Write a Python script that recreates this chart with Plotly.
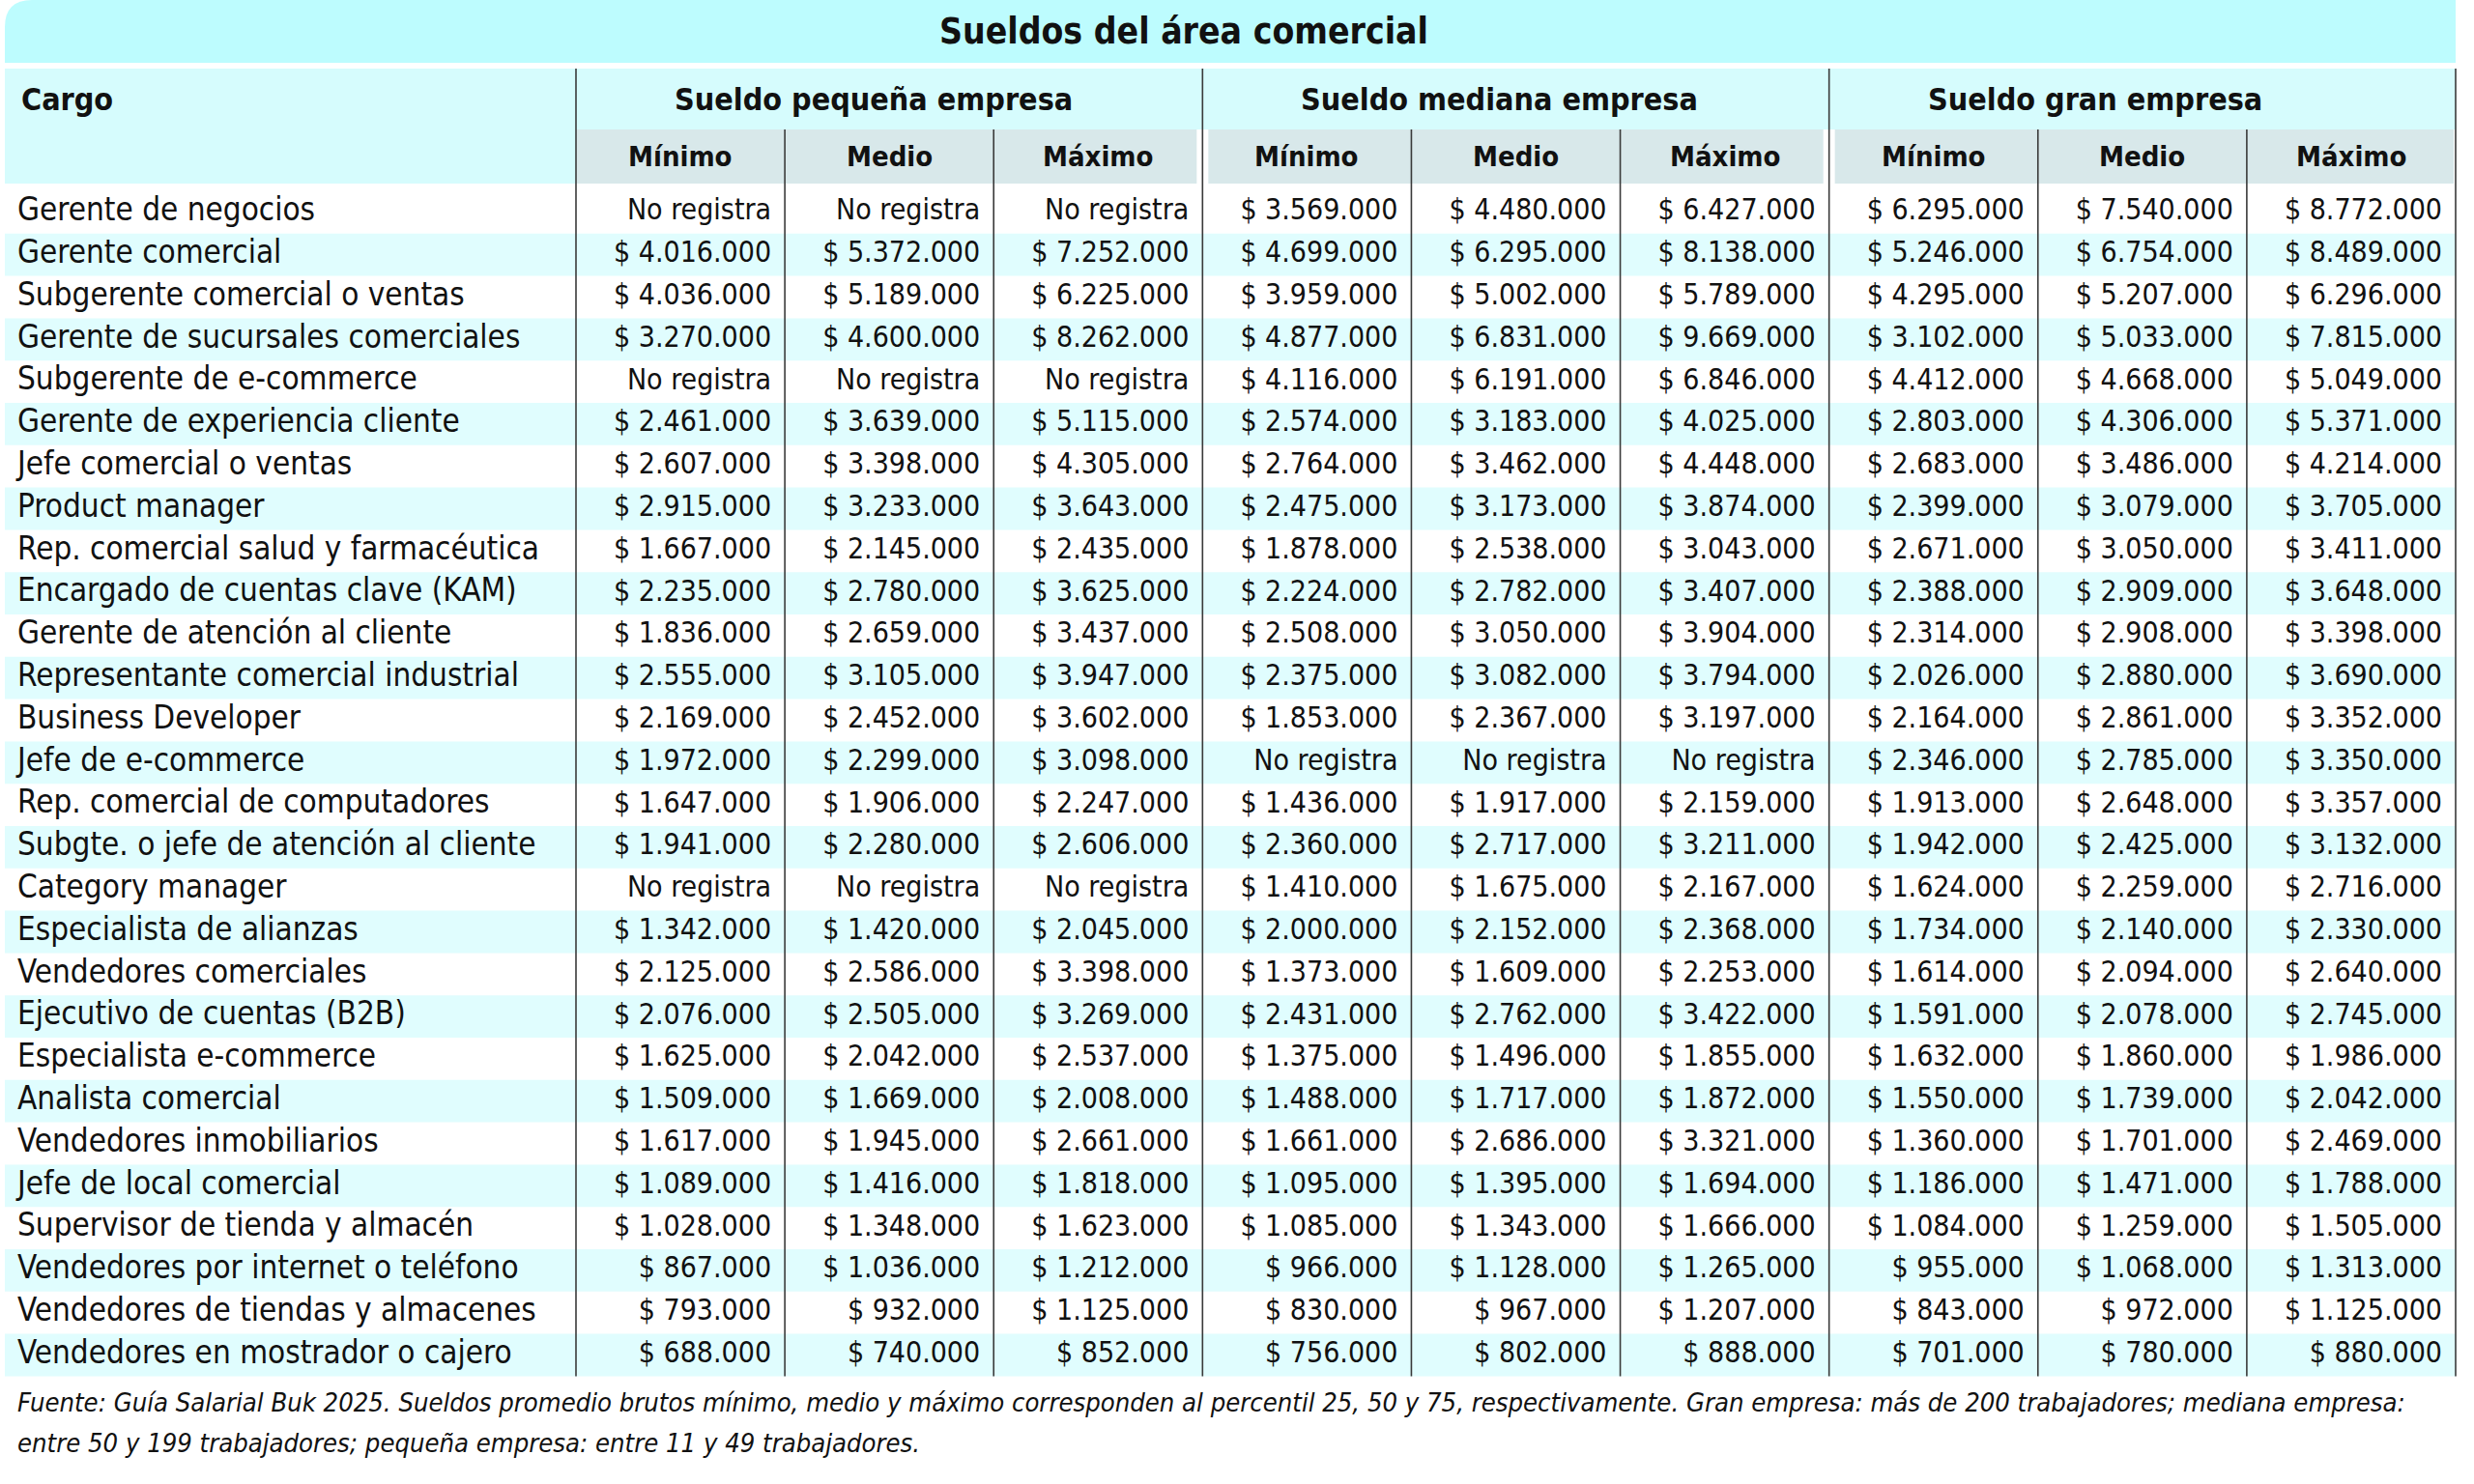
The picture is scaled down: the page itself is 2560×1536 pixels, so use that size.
import plotly.graph_objects as go

# ---------------- datos ----------------
titulo = "Sueldos del área comercial"
encabezado_cargo = "Cargo"
grupos = ["Sueldo pequeña empresa", "Sueldo mediana empresa", "Sueldo gran empresa"]
niveles = ["Mínimo", "Medio", "Máximo"]

cargos = [
    "Gerente de negocios", "Gerente comercial", "Subgerente comercial o ventas",
    "Gerente de sucursales comerciales", "Subgerente de e-commerce",
    "Gerente de experiencia cliente", "Jefe comercial o ventas", "Product manager",
    "Rep. comercial salud y farmacéutica", "Encargado de cuentas clave (KAM)",
    "Gerente de atención al cliente", "Representante comercial industrial",
    "Business Developer", "Jefe de e-commerce", "Rep. comercial de computadores",
    "Subgte. o jefe de atención al cliente", "Category manager",
    "Especialista de alianzas", "Vendedores comerciales", "Ejecutivo de cuentas (B2B)",
    "Especialista e-commerce", "Analista comercial", "Vendedores inmobiliarios",
    "Jefe de local comercial", "Supervisor de tienda y almacén",
    "Vendedores por internet o teléfono", "Vendedores de tiendas y almacenes",
    "Vendedores en mostrador o cajero",
]

# None = "No registra"
peq_min = [None, 4016000, 4036000, 3270000, None, 2461000, 2607000, 2915000, 1667000, 2235000,
           1836000, 2555000, 2169000, 1972000, 1647000, 1941000, None, 1342000, 2125000, 2076000,
           1625000, 1509000, 1617000, 1089000, 1028000, 867000, 793000, 688000]
peq_med = [None, 5372000, 5189000, 4600000, None, 3639000, 3398000, 3233000, 2145000, 2780000,
           2659000, 3105000, 2452000, 2299000, 1906000, 2280000, None, 1420000, 2586000, 2505000,
           2042000, 1669000, 1945000, 1416000, 1348000, 1036000, 932000, 740000]
peq_max = [None, 7252000, 6225000, 8262000, None, 5115000, 4305000, 3643000, 2435000, 3625000,
           3437000, 3947000, 3602000, 3098000, 2247000, 2606000, None, 2045000, 3398000, 3269000,
           2537000, 2008000, 2661000, 1818000, 1623000, 1212000, 1125000, 852000]
med_min = [3569000, 4699000, 3959000, 4877000, 4116000, 2574000, 2764000, 2475000, 1878000, 2224000,
           2508000, 2375000, 1853000, None, 1436000, 2360000, 1410000, 2000000, 1373000, 2431000,
           1375000, 1488000, 1661000, 1095000, 1085000, 966000, 830000, 756000]
med_med = [4480000, 6295000, 5002000, 6831000, 6191000, 3183000, 3462000, 3173000, 2538000, 2782000,
           3050000, 3082000, 2367000, None, 1917000, 2717000, 1675000, 2152000, 1609000, 2762000,
           1496000, 1717000, 2686000, 1395000, 1343000, 1128000, 967000, 802000]
med_max = [6427000, 8138000, 5789000, 9669000, 6846000, 4025000, 4448000, 3874000, 3043000, 3407000,
           3904000, 3794000, 3197000, None, 2159000, 3211000, 2167000, 2368000, 2253000, 3422000,
           1855000, 1872000, 3321000, 1694000, 1666000, 1265000, 1207000, 888000]
gran_min = [6295000, 5246000, 4295000, 3102000, 4412000, 2803000, 2683000, 2399000, 2671000, 2388000,
            2314000, 2026000, 2164000, 2346000, 1913000, 1942000, 1624000, 1734000, 1614000, 1591000,
            1632000, 1550000, 1360000, 1186000, 1084000, 955000, 843000, 701000]
gran_med = [7540000, 6754000, 5207000, 5033000, 4668000, 4306000, 3486000, 3079000, 3050000, 2909000,
            2908000, 2880000, 2861000, 2785000, 2648000, 2425000, 2259000, 2140000, 2094000, 2078000,
            1860000, 1739000, 1701000, 1471000, 1259000, 1068000, 972000, 780000]
gran_max = [8772000, 8489000, 6296000, 7815000, 5049000, 5371000, 4214000, 3705000, 3411000, 3648000,
            3398000, 3690000, 3352000, 3350000, 3357000, 3132000, 2716000, 2330000, 2640000, 2745000,
            1986000, 2042000, 2469000, 1788000, 1505000, 1313000, 1125000, 880000]

fuente = [
    "Fuente: Guía Salarial Buk 2025. Sueldos promedio brutos mínimo, medio y máximo corresponden "
    "al percentil 25, 50 y 75, respectivamente. Gran empresa: más de 200 trabajadores; mediana empresa:",
    "entre 50 y 199 trabajadores; pequeña empresa: entre 11 y 49 trabajadores.",
]

columnas = [peq_min, peq_med, peq_max, med_min, med_med, med_max, gran_min, gran_med, gran_max]


def fmt(v):
    if v is None:
        return "No registra"
    return "$ " + f"{v:,}".replace(",", ".")


# ---------------- estilo / geometria ----------------
W, H = 2560, 1536
FONT = "DejaVu Sans Condensed, Liberation Sans Narrow, sans-serif"
C_TITULO = "#bdfcfe"
C_CABECERA = "#d6fcfd"
C_NIVEL = "#d8e8ea"
C_FRANJA = "#e0fdfe"
C_LINEA = "#3a3a3a"
C_TEXTO = "#111111"

X0 = 5
X_CARGO = 596
X_FIN = 2541
ANCHO_COL = (X_FIN - X_CARGO) / 9
bordes = [X_CARGO + i * ANCHO_COL for i in range(10)]

Y_TIT = (0, 65)
Y_GRUPO = (71, 134)
Y_NIVEL = (134, 190)
Y_FILAS = 198
ALTO_FILA = 43.8
n = len(cargos)
Y_FONDO = Y_FILAS + n * ALTO_FILA
y_centro = [Y_FILAS + (i + 0.5) * ALTO_FILA for i in range(n)]

fig = go.Figure()

shapes = []
# banda del titulo con esquina redondeada
r = 28
shapes.append(dict(type="path", xref="x", yref="y",
                   path=f"M {X0},{Y_TIT[1]} L {X0},{r} Q {X0},0 {X0 + r},0 L {X_FIN},0 L {X_FIN},{Y_TIT[1]} Z",
                   fillcolor=C_TITULO, line=dict(width=0), layer="below"))
# cabeceras
shapes.append(dict(type="rect", x0=X0, x1=X_CARGO, y0=Y_GRUPO[0], y1=Y_NIVEL[1],
                   fillcolor=C_CABECERA, line=dict(width=0), layer="below"))
shapes.append(dict(type="rect", x0=X_CARGO, x1=X_FIN, y0=Y_GRUPO[0], y1=Y_GRUPO[1],
                   fillcolor=C_CABECERA, line=dict(width=0), layer="below"))
for g in range(3):
    a, b = bordes[3 * g], bordes[3 * g + 3]
    shapes.append(dict(type="rect", x0=a + (6 if g > 0 else 0), x1=b - (6 if g < 2 else 2),
                       y0=Y_NIVEL[0], y1=Y_NIVEL[1],
                       fillcolor=C_NIVEL, line=dict(width=0), layer="below"))
# franjas alternas
for i in range(n):
    if i % 2 == 1:
        shapes.append(dict(type="rect", x0=X0, x1=X_FIN,
                           y0=Y_FILAS + i * ALTO_FILA, y1=Y_FILAS + (i + 1) * ALTO_FILA,
                           fillcolor=C_FRANJA, line=dict(width=0), layer="below"))
# lineas verticales
for k, xb in enumerate(bordes):
    y_ini = Y_GRUPO[0] if k % 3 == 0 else Y_NIVEL[0]
    shapes.append(dict(type="line", x0=xb, x1=xb, y0=y_ini, y1=Y_FONDO,
                       line=dict(color=C_LINEA, width=1.6)))

# textos de las celdas
fig.add_trace(go.Scatter(
    x=[X0 + 13] * n, y=y_centro, text=cargos, mode="text",
    textposition="middle right", hoverinfo="skip",
    textfont=dict(family=FONT, size=33, color=C_TEXTO)))
for j, col in enumerate(columnas):
    fig.add_trace(go.Scatter(
        x=[bordes[j + 1] - 14] * n, y=y_centro, text=[fmt(v) for v in col], mode="text",
        textposition="middle left", hoverinfo="skip",
        textfont=dict(family=FONT, size=30, color=C_TEXTO)))

annotations = []
annotations.append(dict(x=1225, y=sum(Y_TIT) / 2, text=f"<b>{titulo}</b>", showarrow=False,
                        xanchor="center", yanchor="middle",
                        font=dict(family=FONT, size=37, color=C_TEXTO)))
annotations.append(dict(x=X0 + 15, y=sum(Y_GRUPO) / 2, text=f"<b>{encabezado_cargo}</b>",
                        showarrow=False, xanchor="left", yanchor="middle",
                        font=dict(family=FONT, size=32, color=C_TEXTO)))
for g, nombre in enumerate(grupos):
    annotations.append(dict(x=bordes[3 * g] + 100, y=sum(Y_GRUPO) / 2, text=f"<b>{nombre}</b>",
                            showarrow=False, xanchor="left", yanchor="middle",
                            font=dict(family=FONT, size=32, color=C_TEXTO)))
for j in range(9):
    annotations.append(dict(x=(bordes[j] + bordes[j + 1]) / 2, y=sum(Y_NIVEL) / 2,
                            text=f"<b>{niveles[j % 3]}</b>", showarrow=False,
                            xanchor="center", yanchor="middle",
                            font=dict(family=FONT, size=29, color=C_TEXTO)))
for k, linea in enumerate(fuente):
    annotations.append(dict(x=X0 + 11, y=1451 + k * 42, text=f"<i>{linea}</i>", showarrow=False,
                            xanchor="left", yanchor="middle",
                            font=dict(family=FONT, size=27.2, color=C_TEXTO)))

fig.update_layout(
    width=W, height=H,
    margin=dict(l=0, r=0, t=0, b=0),
    paper_bgcolor="white", plot_bgcolor="white",
    showlegend=False,
    shapes=shapes, annotations=annotations,
    xaxis=dict(range=[0, W], visible=False, fixedrange=True),
    yaxis=dict(range=[H, 0], visible=False, fixedrange=True),
)

fig.write_html("out.html", config={"displayModeBar": False},
               post_script="document.body.style.margin='0';document.body.style.overflow='hidden';")
